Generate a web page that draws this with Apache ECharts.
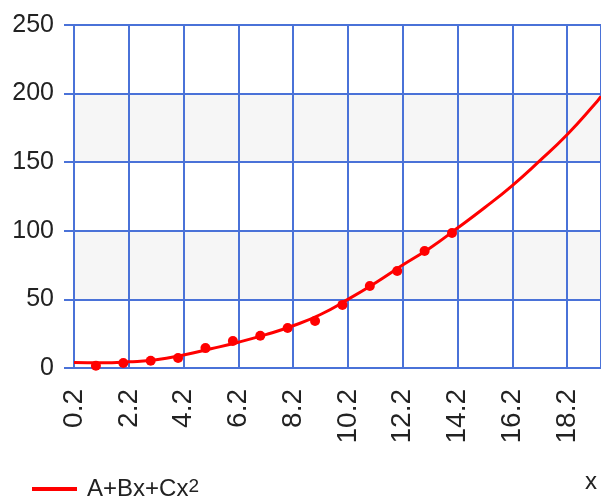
<!DOCTYPE html>
<html>
<head>
<meta charset="utf-8">
<script src="https://cdn.jsdelivr.net/npm/echarts@6/dist/echarts.min.js"></script>
<style>
html,body{margin:0;padding:0;background:#fff;}
#chart{width:601px;height:498px;}
</style>
</head>
<body>
<div id="chart"></div>
<script>
// measured points
var pointX = [1, 2, 3, 4, 5, 6, 7, 8, 9, 10, 11, 12, 13, 14];
var pointY = [1.7, 3.6, 5.3, 7.3, 14.5, 19.7, 23.5, 29.2, 34.3, 46, 59.8, 70.7, 85.3, 98.4];
// fitted curve
var curveX = [0.2, 1.2, 2.2, 3.2, 4.2, 5.2, 6.2, 7.2, 8.2, 9.2, 10.2, 11.2, 12.2, 13.2, 14.2, 15.2, 16.2, 17.2, 18.2, 19.2, 19.44];
var curveY = [4, 3.8, 4.5, 6, 9.5, 14, 18.8, 24.3, 30.8, 39, 50, 62, 75, 87.5, 102, 117, 133, 151, 170, 192, 198];
var yTicks = [0, 50, 100, 150, 200, 250];

var blue = '#4a72d8';
var font = 'Liberation Sans';
var fitName = 'A+Bx+Cx²';

var chart = echarts.init(document.getElementById('chart'));

function pairs(xs, ys){
	var out = [];
	for (var i = 0; i < xs.length; i++) out.push([xs[i], ys[i]]);
	return out;
}

var option = {
	animation: false,
	grid: { left: 74, top: 25, right: -1, bottom: 130 },
	legend: {
		data: [{ name: fitName, icon: 'rect' }],
		left: 27,
		top: 472,
		itemWidth: 45,
		itemHeight: 4,
		formatter: function(){ return '{a|A+Bx+Cx}{s|2}'; },
		textStyle: {
			fontFamily: font, fontSize: 24, color: '#222', padding: [0, 0, 0, 5],
			rich: {
				a: { fontFamily: font, fontSize: 24, color: '#222' },
				s: { fontFamily: font, fontSize: 19, color: '#222', verticalAlign: 'top' }
			}
		}
	},
	graphic: [{
		type: 'text',
		right: 4,
		top: 470,
		style: { text: 'x', font: '24px ' + font, fill: '#222' }
	}],
	xAxis: {
		type: 'value',
		min: 0.2,
		max: 19.44,
		interval: 2,
		axisLine: { show: true, lineStyle: { color: blue, width: 2 } },
		axisTick: { show: false },
		splitLine: { show: true, lineStyle: { color: blue, width: 2 } },
		axisLabel: {
			rotate: 90,
			margin: 21,
			fontFamily: font,
			fontSize: 28,
			color: '#222',
			showMaxLabel: false,
			formatter: function(v){ return v.toFixed(1); }
		}
	},
	yAxis: {
		type: 'value',
		min: yTicks[0],
		max: yTicks[yTicks.length - 1],
		interval: 50,
		axisLine: { show: true, lineStyle: { color: blue, width: 2 } },
		axisTick: { show: true, length: 10, lineStyle: { color: blue, width: 2 } },
		splitLine: { show: true, lineStyle: { color: blue, width: 2 } },
		splitArea: { show: true, areaStyle: { color: ['#ffffff', '#f6f6f6'] } },
		axisLabel: { margin: 20, fontFamily: font, fontSize: 25, color: '#222' }
	},
	series: [
		{
			name: fitName,
			type: 'line',
			data: pairs(curveX, curveY),
			smooth: true,
			symbol: 'none',
			lineStyle: { color: '#ff0000', width: 3 },
			itemStyle: { color: '#ff0000' },
			z: 3
		},
		{
			name: 'points',
			type: 'scatter',
			data: pairs(pointX, pointY),
			symbolSize: 10,
			itemStyle: { color: '#ff0000', opacity: 1 },
			z: 4
		}
	]
};
chart.setOption(option);
</script>
</body>
</html>
